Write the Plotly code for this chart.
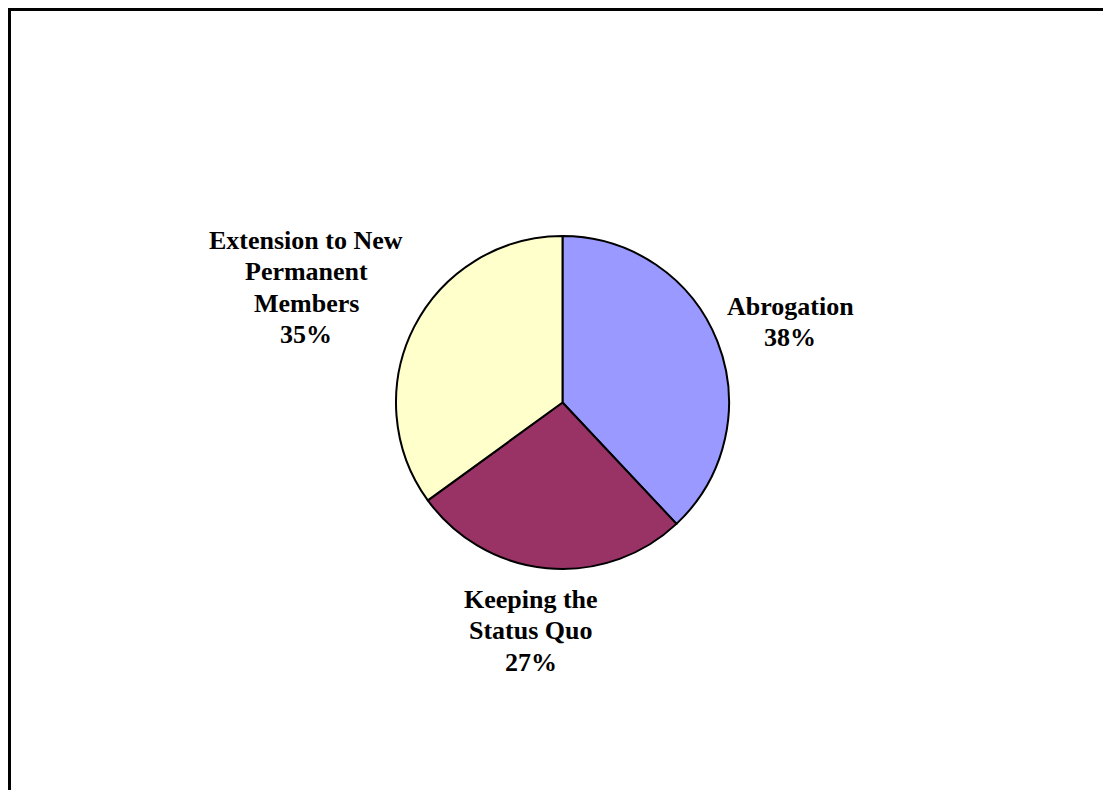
import plotly.graph_objects as go

# Data
labels = ["Abrogation", "Keeping the Status Quo", "Extension to New Permanent Members"]
values = [38, 27, 35]
label_lines = [["Abrogation"], ["Keeping the", "Status Quo"], ["Extension to New", "Permanent", "Members"]]
colors = ["#9999FF", "#993366", "#FFFFCC"]

W, H = 1103, 790
# label block anchors (pixel centers of first line) and line spacing
label_pos = [(790, 306), (531, 599), (306, 240)]
line_step = 31.5

fig = go.Figure()
cx, cy, r = 562.5, 402.5, 166.5
fig.add_trace(go.Pie(
    labels=labels, values=values, sort=False, direction="clockwise", rotation=0,
    marker=dict(colors=colors, line=dict(color="black", width=2)),
    textinfo="none", hoverinfo="label+percent", showlegend=False,
    domain=dict(x=[(cx - r) / W, (cx + r) / W], y=[1 - (cy + r) / H, 1 - (cy - r) / H]),
))

total = sum(values)
annotations = []
for lines, v, (px, py) in zip(label_lines, values, label_pos):
    all_lines = lines + [f"{round(100 * v / total)}%"]
    for i, t in enumerate(all_lines):
        annotations.append(dict(
            x=px / W, y=1 - (py + i * line_step) / H, xref="paper", yref="paper",
            text=f"<b>{t}</b>", showarrow=False, xanchor="center", yanchor="middle",
            font=dict(family="Liberation Serif, Times New Roman, serif", size=26, color="black"),
        ))

fig.update_layout(
    width=W, height=H, margin=dict(l=0, r=0, t=0, b=0),
    paper_bgcolor="white", plot_bgcolor="white",
    annotations=annotations,
    shapes=[dict(type="rect", xref="paper", yref="paper",
                 x0=9.5 / W, x1=1.02, y0=-0.02, y1=1 - 9.5 / H,
                 line=dict(color="black", width=3), fillcolor="rgba(0,0,0,0)")],
)

fig.write_html("out.html", config={"displayModeBar": False},
               post_script="document.body.style.margin='0';document.body.style.overflow='hidden';")
